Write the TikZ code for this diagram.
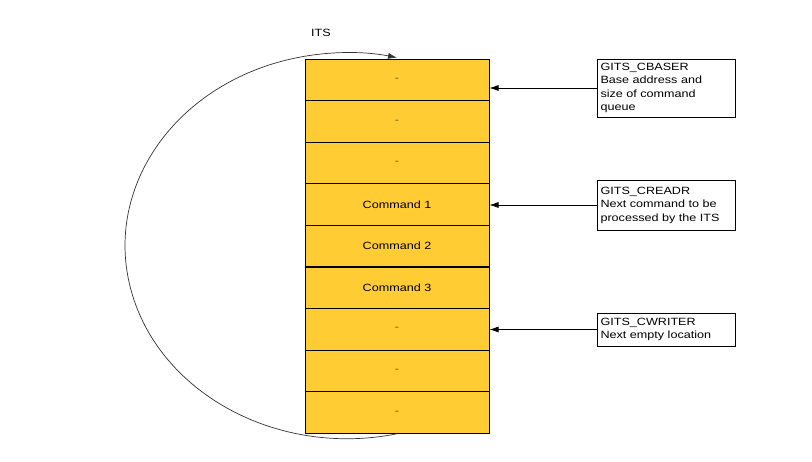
\documentclass[tikz,border=0pt]{standalone}
\usepackage{fontspec}
\setmainfont{Liberation Sans}
\newfontfamily\lab[FakeStretch=1.2]{Liberation Sans}
\usetikzlibrary{arrows.meta}
\definecolor{cellyellow}{RGB}{255,204,51}
\definecolor{dashgray}{RGB}{110,90,40}
\tikzset{
  cell/.style={draw=black, line width=1pt, fill=cellyellow, minimum width=184pt, minimum height=41.56pt, inner sep=0pt, font=\lab\fontsize{10.5}{13}\selectfont},
  regbox/.style={draw=black, line width=0.8pt, fill=white, minimum width=138pt, text width=131pt, align=left, inner xsep=3.5pt, inner ysep=1pt, font=\lab\fontsize{10.5}{13.5}\selectfont},
  ptr/.style={-{Latex[length=9pt,width=6pt]}, line width=0.7pt},
  loop/.style={-{Latex[length=9pt,width=6pt]}, line width=0.7pt, draw=black!80}
}
\begin{document}
\begin{tikzpicture}[x=1pt,y=1pt]
\useasboundingbox (0,0) rectangle (812,462);
\node[cell] (c1) at (397,382) {\textcolor{dashgray}{-}};
\node[cell] (c2) at (397,340.4) {\textcolor{dashgray}{-}};
\node[cell] (c3) at (397,298.9) {\textcolor{dashgray}{-}};
\node[cell] (c4) at (397,257.3) {Command 1};
\node[cell] (c5) at (397,215.8) {Command 2};
\node[cell] (c6) at (397,174.2) {Command 3};
\node[cell] (c7) at (397,132.6) {\textcolor{dashgray}{-}};
\node[cell] (c8) at (397,91.1) {\textcolor{dashgray}{-}};
\node[cell] (c9) at (397,49.5) {\textcolor{dashgray}{-}};
\node[font=\lab\fontsize{10.5}{13}\selectfont] (its) at (321,429) {ITS};
\node[regbox, minimum height=58pt] (b1) at (666,374) {GITS\_CBASER\\Base address and\\size of command\\queue};
\node[regbox, minimum height=50pt] (b2) at (666,257) {GITS\_CREADR\\Next command to be\\processed by the ITS};
\node[regbox, minimum height=33pt] (b3) at (666,132.5) {GITS\_CWRITER\\Next empty location};
\draw[ptr] (b1.west) -- (b1.west -| c1.east);
\draw[ptr] (b2.west) -- (b2.west -| c4.east);
\draw[ptr] (b3.west) -- (b3.west -| c7.east);
\draw[loop] (c9.south) arc[start angle=-77, end angle=-283, x radius=222pt, y radius=193pt];
\end{tikzpicture}
\end{document}
